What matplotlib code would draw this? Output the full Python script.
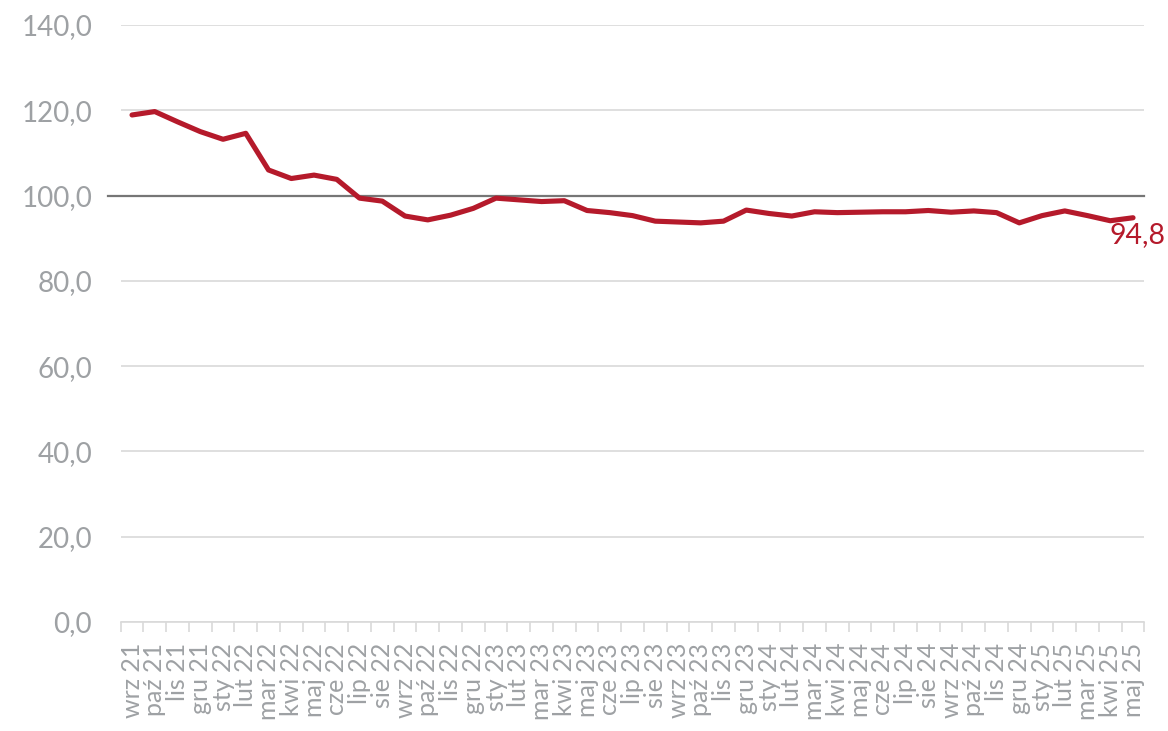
import matplotlib
matplotlib.use("Agg")
import matplotlib.pyplot as plt
import numpy as np

months = ["wrz", "paź", "lis", "gru", "sty", "lut", "mar", "kwi", "maj", "cze", "lip", "sie"]
labels = []
m, y = 0, 21
for _ in range(45):
    labels.append(f"{months[m]} {y}")
    m = (m + 1) % 12
    if m == 4:
        y += 1

values = [118.9, 119.7, 117.3, 115.0, 113.2, 114.6, 106.0, 104.0, 104.8, 103.8,
          99.4, 98.7, 95.2, 94.3, 95.4, 97.0, 99.4, 99.0, 98.6, 98.8,
          96.5, 96.0, 95.3, 94.0, 93.8, 93.6, 94.0, 96.6, 95.8, 95.2,
          96.2, 96.0, 96.1, 96.2, 96.2, 96.5, 96.1, 96.4, 96.0, 93.6,
          95.3, 96.4, 95.3, 94.1, 94.8]
yticks = [0, 20, 40, 60, 80, 100, 120, 140]
ref_level = 100
last_label = "94,8"

RED = "#B51A2B"
GRAY_TXT = "#9EA1A4"
FONT = "Lato"

fig = plt.figure(figsize=(11.68, 7.31), dpi=100)
ax = fig.add_axes([0.1033, 0.1491, 0.9798 - 0.1033, 0.9658 - 0.1491])

x = np.arange(len(values))
ax.set_xlim(-0.5, len(values) - 0.5)
ax.set_ylim(0, 140)

ax.set_yticks(yticks)
ax.set_yticklabels([f"{v:.1f}".replace(".", ",") for v in yticks],
                   fontsize=20, color=GRAY_TXT, family=FONT)
ax.grid(axis="y", color="#D9D9D9", linewidth=1.2)
ax.set_axisbelow(True)
ax.tick_params(axis="y", length=0, pad=20.5)

ax.set_xticks(x)
ax.set_xticklabels(labels, rotation=90, fontsize=18, color=GRAY_TXT, family=FONT,
                   va="top", ha="center")
ax.tick_params(axis="x", which="major", length=0, pad=15)
ax.set_xticks(np.arange(-0.5, len(values), 1.0), minor=True)
ax.tick_params(axis="x", which="minor", length=7, color="#D9D9D9", width=1.2, direction="out")

for s in ["top", "right", "left"]:
    ax.spines[s].set_visible(False)
ax.spines["bottom"].set_color("#D9D9D9")
ax.spines["bottom"].set_linewidth(1.2)

ax.axhline(ref_level, xmin=-0.012, xmax=1.0, color="#767676", linewidth=1.6, clip_on=False, zorder=2)

ax.plot(x, values, color=RED, linewidth=3.7, solid_capstyle="round", solid_joinstyle="round", zorder=3)

ax.annotate(last_label, xy=(x[-1], values[-1]), xytext=(-24, -17), textcoords="offset pixels",
            ha="left", va="center", fontsize=20.5, color=RED, family=FONT, annotation_clip=False)

fig.savefig("out.png", dpi=100)
